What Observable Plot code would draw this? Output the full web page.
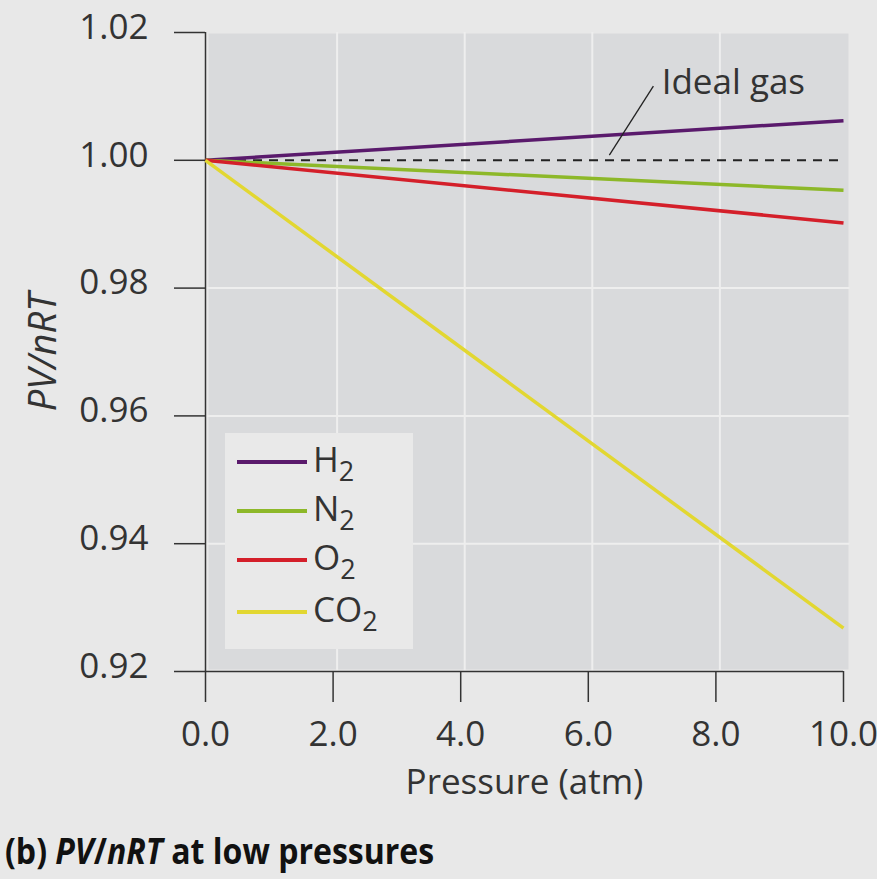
<!DOCTYPE html>
<html>
<head>
<meta charset="utf-8">
<script src="https://cdn.jsdelivr.net/npm/d3@7"></script>
<script src="https://cdn.jsdelivr.net/npm/@observablehq/plot@0.6"></script>
<style>
  html, body { margin: 0; padding: 0; background: #e8e8e8; }
  #wrap { position: relative; width: 877px; height: 879px; overflow: hidden; font-family: "Open Sans", sans-serif; color: #333; }
  #legend { position: absolute; left: 225px; top: 433px; width: 188px; height: 216px; background: #e9e9e9; }
  .row { position: absolute; left: 0; height: 40px; width: 188px; }
  .sw { position: absolute; left: 12px; width: 70px; height: 4px; top: 18px; }
  .lab { position: absolute; left: 88px; top: -5px; font-size: 35px; line-height: 44px; white-space: nowrap; }
  .lab sub { font-size: 27px; vertical-align: -9px; line-height: 0; }
  #title { position: absolute; left: 5px; top: 833px; font-size: 36px; line-height: 36px; font-weight: 700; color: #111; white-space: nowrap; transform: scaleX(0.89); transform-origin: 0 0; }
</style>
</head>
<body>
<div id="wrap"></div>
<script>
// ---- data ----
const pressure = [0, 10];
const h2  = [1.0000, 1.0062];
const n2  = [1.0000, 0.9953];
const o2  = [1.0000, 0.9902];
const co2 = [1.0000, 0.9268];
const gasNames = ["H", "N", "O", "CO"];
const gasColors = ["#5a1a6c", "#8db829", "#d41f2a", "#e2d731"];
const xTicks = [0, 2, 4, 6, 8, 10];
const yTicks = [0.92, 0.94, 0.96, 0.98, 1.00, 1.02];
const idealValue = 1.0;

const seriesValues = [h2, n2, o2, co2];
const rows = [];
seriesValues.forEach((vals, i) => {
  pressure.forEach((p, j) => rows.push({gas: gasNames[i], p, v: vals[j]}));
});

const txt = "#333";
const chart = Plot.plot({
  width: 877,
  height: 820,
  marginLeft: 205,
  marginRight: 34,
  marginTop: 32,
  marginBottom: 149,
  style: {background: "transparent", fontFamily: "Open Sans, sans-serif", fontSize: "34px", color: txt, overflow: "visible"},
  x: {domain: [0, 10]},
  y: {domain: [0.92, 1.02]},
  marks: [
    Plot.frame({fill: "#d9dadc", stroke: null, insetLeft: 3, insetRight: -5, insetBottom: 2, insetTop: 1}),
    Plot.gridX(xTicks.slice(1, -1), {stroke: "#eeeeee", strokeOpacity: 1, strokeWidth: 2, dx: 4}),
    Plot.gridY(yTicks.filter(d => d !== 1.0 && d !== 1.02 && d !== 0.92), {stroke: "#eeeeee", strokeOpacity: 1, strokeWidth: 2, x1: 0, x2: 10.1}),
    // y tick marks (no labels)
    Plot.axisY(yTicks, {tickSize: 31, tickFormat: () => "", stroke: txt, strokeWidth: 1.5, label: null}),
    // y tick labels, nudged up slightly
    Plot.axisY(yTicks, {tickSize: 0, tickPadding: 57, tickFormat: d => d.toFixed(2), fontSize: 35, fill: txt, dy: -5, label: null}),
    Plot.axisX(xTicks, {tickSize: 31, tickPadding: 19, tickFormat: d => d.toFixed(1), fontSize: 35, stroke: txt, strokeWidth: 1.5, fill: txt, label: null}),
    Plot.ruleX([0], {y1: 0.92, y2: 1.02, stroke: txt, strokeWidth: 1.5}),
    Plot.ruleY([0.92], {stroke: txt, strokeWidth: 1.5}),
    Plot.ruleY([idealValue], {x1: 0, x2: 10, stroke: "#222", strokeWidth: 2, strokeDasharray: "9,7"}),
    Plot.line(rows, {x: "p", y: "v", z: "gas", stroke: d => gasColors[gasNames.indexOf(d.gas)], strokeWidth: 3.5, strokeLinecap: "butt"}),
    Plot.link([{x1: 6.33, y1: 1.0008, x2: 7.02, y2: 1.0116}], {x1: "x1", y1: "y1", x2: "x2", y2: "y2", stroke: "#222", strokeWidth: 1.3}),
    Plot.text(["Ideal gas"], {x: 7.15, y: 1.0122, text: d => d, textAnchor: "start", fontSize: 35, fill: txt}),
    Plot.text(["Pressure (atm)"], {frameAnchor: "bottom", dy: 122, text: d => d, fontSize: 35, fill: txt}),
    Plot.text(["PV/nRT"], {frameAnchor: "left", textAnchor: "middle", dx: -162, dy: 0, rotate: -90, text: d => d, fontSize: 38, fontStyle: "italic", fill: txt})
  ]
});

const wrap = document.getElementById("wrap");
wrap.appendChild(chart);

// legend
const legend = document.createElement("div");
legend.id = "legend";
const rowTops = [9, 58, 107, 159];
gasNames.forEach((g, i) => {
  const r = document.createElement("div");
  r.className = "row";
  r.style.top = rowTops[i] + "px";
  r.innerHTML = `<div class="sw" style="background:${gasColors[i]}"></div><div class="lab">${g}<sub>2</sub></div>`;
  legend.appendChild(r);
});
wrap.appendChild(legend);

const title = document.createElement("div");
title.id = "title";
title.innerHTML = "(b) <i>PV</i>/<i>nRT</i> at low pressures";
wrap.appendChild(title);
</script>
</body>
</html>
